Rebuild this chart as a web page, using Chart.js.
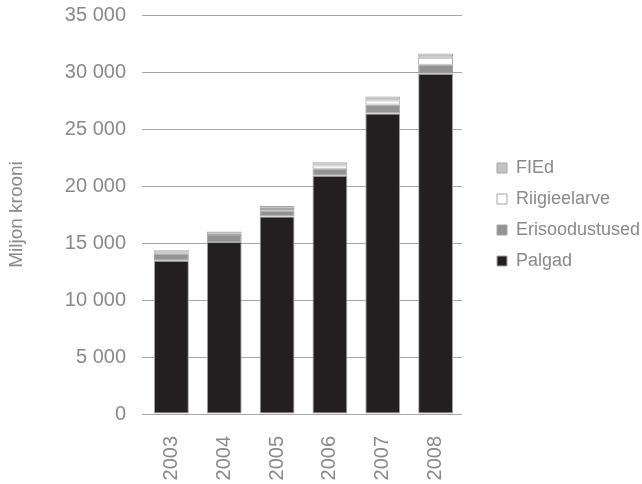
<!DOCTYPE html>
<html>
<head>
<meta charset="utf-8">
<script src="https://cdn.jsdelivr.net/npm/chart.js"></script>
<style>
	html, body { margin: 0; padding: 0; background: #ffffff; }
	#wrap { width: 642px; height: 484px; }
</style>
</head>
<body>
<div id="wrap"><canvas id="chart" width="642" height="484"></canvas></div>
<script>
// years on the x axis
const years = ["2003", "2004", "2005", "2006", "2007", "2008"];

// series, bottom of the stack first (million kroons)
const palgad = [13450, 15090, 17330, 20890, 26370, 29850];
const erisoodustused = [600, 620, 500, 620, 790, 790];
const riigieelarve = [90, 100, 150, 290, 350, 610];
const fied = [220, 200, 260, 290, 350, 380];

// y axis ticks
const yTicks = [0, 5000, 10000, 15000, 20000, 25000, 30000, 35000];

const textGrey = "#898989";
const lineGrey = "#a6a6a6";
const fontFamily = "'Liberation Sans', Arial, sans-serif";

function fmt(v) {
	return String(v).replace(/\B(?=(\d{3})+(?!\d))/g, " ");
}

function series(label, data, color) {
	return {
		"label": label,
		"data": data,
		"backgroundColor": color,
		"borderColor": lineGrey,
		"borderWidth": 1,
		"borderSkipped": false,
		"categoryPercentage": 1,
		"barPercentage": 0.66
	};
}

// keep the legend column at a fixed width so the plot ends where it should
const legendWidth = {
	"id": "legendWidth",
	afterInit: function(chart) {
		const lg = chart.legend;
		if (!lg) return;
		const fit = lg.fit.bind(lg);
		lg.fit = function() {
			fit();
			this.width = 642 - 484;
		};
	}
};

new Chart(document.getElementById("chart"), {
	"type": "bar",
	"data": {
		"labels": years,
		"datasets": [
			series("Palgad", palgad, "#231f20"),
			series("Erisoodustused", erisoodustused, "#939393"),
			series("Riigieelarve", riigieelarve, "#ffffff"),
			series("FIEd", fied, "#c3c3c3")
		]
	},
	"options": {
		"responsive": false,
		"animation": false,
		"layout": { "padding": { "top": 15, "left": 0, "right": 0, "bottom": 0 } },
		"plugins": {
			"tooltip": { "enabled": false },
			"legend": {
				"position": "right",
				"fullSize": false,
				"reverse": true,
				"labels": {
					"boxWidth": 10,
					"boxHeight": 10,
					"padding": 13,
					"color": textGrey,
					"font": { "family": fontFamily, "size": 18 }
				}
			}
		},
		"scales": {
			"x": {
				"stacked": true,
				"grid": { "display": false },
				"border": { "display": false },
				"ticks": {
					"minRotation": 90,
					"maxRotation": 90,
					"padding": 14,
					"color": textGrey,
					"font": { "family": fontFamily, "size": 20 }
				},
				afterFit: function(s) { s.height = 70; }
			},
			"y": {
				"stacked": true,
				"min": 0,
				"max": 35000,
				"grid": { "color": lineGrey, "lineWidth": 1, "drawTicks": true, "tickLength": 3 },
				"border": { "display": false },
				"afterBuildTicks": function(s) { s.ticks = yTicks.map(function(v) { return { "value": v }; }); },
				"ticks": {
					"padding": 16,
					"color": textGrey,
					"font": { "family": fontFamily, "size": 20 },
					"callback": function(v) { return fmt(v); }
				},
				"title": {
					"display": true,
					"text": "Miljon krooni",
					"color": textGrey,
					"padding": { "top": 5, "bottom": 0 },
					"font": { "family": fontFamily, "size": 19 }
				},
				afterFit: function(s) {
					s.width = 145;
					s.paddingTop = 0;
					s.paddingBottom = 0;
				}
			},
			"spacer": {
				"position": "right",
				"display": true,
				"grid": { "display": false },
				"border": { "display": false },
				"ticks": { "display": false },
				afterFit: function(s) { s.width = 22; }
			}
		}
	},
	"plugins": [legendWidth]
});
</script>
</body>
</html>
